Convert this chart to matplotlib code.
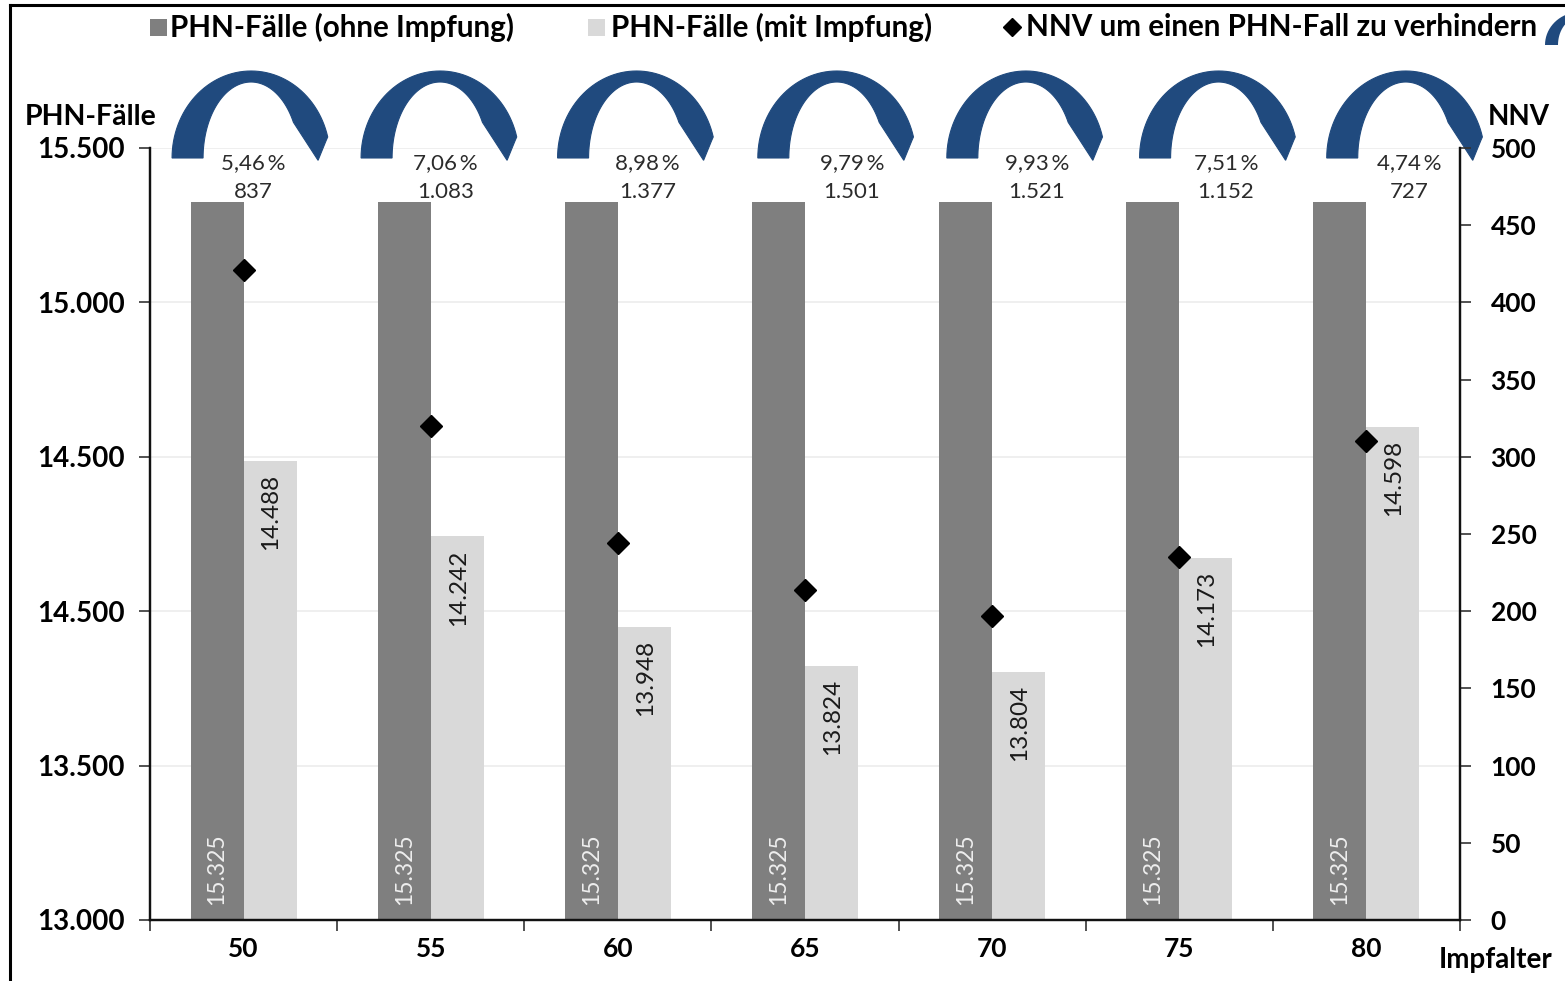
import numpy as np
import matplotlib
matplotlib.use("Agg")
import matplotlib.pyplot as plt
from matplotlib.patches import Polygon, Rectangle
from matplotlib.lines import Line2D
from matplotlib.transforms import blended_transform_factory

plt.rcParams['font.family'] = ['Lato', 'DejaVu Sans']

# ---- data -------------------------------------------------------------
ages = ["50", "55", "60", "65", "70", "75", "80"]
cases_without = [15325, 15325, 15325, 15325, 15325, 15325, 15325]
cases_with = [14488, 14242, 13948, 13824, 13804, 14173, 14598]
nnv = [421, 320, 244, 214, 197, 235, 310]
reduction_pct = ["5,46", "7,06", "8,98", "9,79", "9,93", "7,51", "4,74"]
left_ticks = [13000, 13500, 14000, 14500, 15000, 15500]
left_tick_labels = ["13.000", "13.500", "14.500", "14.500", "15.000", "15.500"]
right_ticks = [0, 50, 100, 150, 200, 250, 300, 350, 400, 450, 500]

DARK = "#7f7f7f"
LIGHT = "#d9d9d9"
BLUE = "#204a7e"


def de_thousands(v):
    return f"{v:,}".replace(",", ".")


W, H = 1565, 981
fig = plt.figure(figsize=(W / 100, H / 100), dpi=100)
ax = fig.add_axes([150 / W, 1 - 920 / H, 1310 / W, 772 / H])
ax2 = ax.twinx()

x = np.arange(len(ages))
bw = 0.283

ax.bar(x - bw / 2, np.array(cases_without) - 13000, bw, bottom=13000,
       color=DARK, zorder=2)
ax.bar(x + bw / 2, np.array(cases_with) - 13000, bw, bottom=13000,
       color=LIGHT, zorder=2)

ax.set_xlim(-0.5, len(ages) - 0.5)
ax.set_ylim(13000, 15500)
ax2.set_ylim(0, 500)

# value labels inside the bars
for i in range(len(ages)):
    ax.text(x[i] - bw / 2, 13000 + 48, de_thousands(cases_without[i]),
            rotation=90, ha="center", va="bottom", fontsize=16.5,
            color="#eeeeee", zorder=4)
    ax.text(x[i] + bw / 2 + 0.005, cases_with[i] - 42, de_thousands(cases_with[i]),
            rotation=90, ha="center", va="top", fontsize=17.5,
            color="#1a1a1a", zorder=4)

# NNV markers on the right axis
ax2.plot(x, nnv, linestyle="none", marker="D", markersize=11,
         color="black", zorder=5)

# grid, spines, ticks
ax.set_yticks(left_ticks)
ax.set_yticklabels(left_tick_labels, fontsize=20, fontweight="bold")
ax.yaxis.grid(True, color="#ececec", linewidth=1.2, zorder=0)
ax.set_axisbelow(True)
ax.set_xticks(x)
ax.set_xticklabels(ages, fontsize=19, fontweight="bold")
ax.tick_params(axis="x", length=0, pad=12)
ax.set_xticks(np.arange(-0.5, len(ages)), minor=True)
ax.tick_params(axis="x", which="minor", length=8, width=1.2, color="#333333")
ax.tick_params(axis="y", length=8, width=1.2, pad=10, color="#333333")

ax2.set_yticks(right_ticks)
ax2.set_yticklabels([str(t) for t in right_ticks], fontsize=19, fontweight="bold")
ax2.tick_params(axis="y", length=8, width=1.2, pad=14, color="#333333")

for a in (ax, ax2):
    a.spines["top"].set_visible(False)
    for s in ("left", "right", "bottom"):
        a.spines[s].set_linewidth(1.6)
        a.spines[s].set_color("#111111")

# arched markers above each age group with reduction figures
shift = [0.04, 0.05, 0.10, 0.17, 0.18, 0.21, 0.21]
label_shift = [0.05, 0.08, 0.16, 0.25, 0.24, 0.25, 0.23]
px_x = 1310 / 7   # pixels per category
px_y = 772        # pixels per axes height
trans = blended_transform_factory(ax.transData, ax.transAxes)


def arch_points(cx, base, rxo, ryo, rxi, ryi, tip_dx):
    th_o = np.linspace(np.pi, np.radians(14), 60)
    outer = np.column_stack([cx + rxo * np.cos(th_o), base + ryo * np.sin(th_o)])
    th_i = np.linspace(np.radians(28), np.pi, 60)
    inner = np.column_stack([cx + rxi * np.cos(th_i), base + ryi * np.sin(th_i)])
    notch = np.array([[cx + rxo * 0.95, base + ryo * 0.2]])
    tip = np.array([[cx + tip_dx, base - 0.003]])
    return np.vstack([outer, notch, tip, inner])


base_y = (920 - 158) / px_y
for i in range(len(ages)):
    cx = x[i] + shift[i]
    pts = arch_points(cx, base_y,
                      79 / px_x, 87 / px_y,
                      48 / px_x, 76 / px_y,
                      67 / px_x)
    ax.add_patch(Polygon(pts, closed=True, facecolor=BLUE, edgecolor=BLUE,
                         linewidth=0.8, transform=trans, clip_on=False, zorder=6))
    lx = x[i] + label_shift[i]
    ax.text(lx, (920 - 163) / px_y, f"{reduction_pct[i]}\u2009%",
            transform=trans, ha="center", va="center", fontsize=16,
            color="#2b2b2b", family=["Lato", "DejaVu Sans"], zorder=7)
    reduction = cases_without[i] - cases_with[i]
    ax.text(lx, (920 - 192) / px_y, de_thousands(reduction),
            transform=trans, ha="center", va="center", fontsize=16,
            color="#2b2b2b", zorder=7)

# axis titles
fig.text(91 / W, 1 - 117 / H, "PHN-Fälle", ha="center", va="center",
         fontsize=20.5, fontweight="bold")
fig.text(1488 / W, 1 - 117 / H, "NNV", ha="left", va="center",
         fontsize=20, fontweight="bold")
fig.text(1496 / W, 1 - 960 / H, "Impfalter", ha="center", va="center",
         fontsize=20, fontweight="bold")

# legend row
ly = 1 - 27 / H
fig.add_artist(Rectangle((150 / W, 1 - 36 / H), 17 / W, 17 / H,
                         facecolor=DARK, edgecolor="none"))
fig.text(170 / W, ly, "PHN-Fälle (ohne Impfung)", ha="left", va="center",
         fontsize=21.3, fontweight="bold")
fig.add_artist(Rectangle((588 / W, 1 - 36 / H), 17 / W, 17 / H,
                         facecolor=LIGHT, edgecolor="none"))
fig.text(611 / W, ly, "PHN-Fälle (mit Impfung)", ha="left", va="center",
         fontsize=21.3, fontweight="bold")
fig.add_artist(Line2D([1012 / W], [ly], marker="D", markersize=9,
                      color="black", linestyle="none"))
fig.text(1026 / W, ly, "NNV um einen PHN-Fall zu verhindern", ha="left",
         va="center", fontsize=21.3, fontweight="bold")

# legend key for the arch, running off the right edge
th_o = np.linspace(np.pi, np.radians(40), 30)
th_i = np.linspace(np.radians(40), np.pi, 30)
cxp, byp = 1580, 45
key = np.vstack([
    np.column_stack([cxp + 35 * np.cos(th_o), byp - 33 * np.sin(th_o)]),
    np.column_stack([cxp + 22 * np.cos(th_i), byp - 28 * np.sin(th_i)]),
])
key[:, 0] /= W
key[:, 1] = 1 - key[:, 1] / H
fig.add_artist(Polygon(key, closed=True, facecolor=BLUE, edgecolor="none"))

# frame lines (top and left edge)
fig.add_artist(Line2D([10 / W, 1.01], [1 - 5 / H, 1 - 5 / H],
                      color="black", linewidth=2.2))
fig.add_artist(Line2D([10 / W, 10 / W], [1 - 5 / H, -0.01],
                      color="black", linewidth=2.2))

fig.savefig("out.png", dpi=100, facecolor="white")
